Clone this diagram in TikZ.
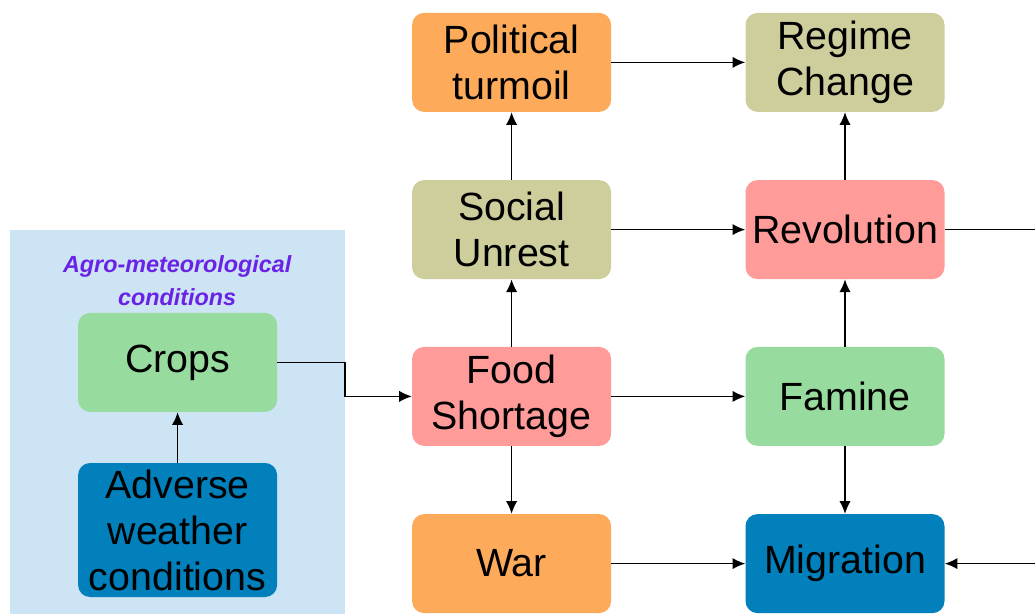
\documentclass[tikz,border=0pt]{standalone}
\usepackage{fontspec}
\setmainfont{Liberation Sans}
\usepackage{tikz}
\usetikzlibrary{arrows.meta}

\definecolor{boxorange}{HTML}{FDAB5B}
\definecolor{boxkhaki}{HTML}{CDCE9C}
\definecolor{boxred}{HTML}{FF9B98}
\definecolor{boxgreen}{HTML}{97DB9E}
\definecolor{boxblue}{HTML}{0180BC}
\definecolor{panelblue}{HTML}{CCE4F4}
\definecolor{agroviolet}{HTML}{6A22E6}

\tikzset{
  box/.style={rounded corners=0.3cm, minimum width=4.975cm, minimum height=2.475cm,
    align=center, font=\fontsize{28}{32.7}\selectfont},
  link/.style={line width=1pt, -{Latex[length=9pt,width=8pt]}}
}

\begin{document}
\begin{tikzpicture}
\useasboundingbox (0,0) rectangle (25.875,15.35);
\fill[panelblue] (0.25,0) rectangle (8.625,9.6);
\node[text=agroviolet, align=center, font=\fontsize{16.6}{23.4}\bfseries\itshape\selectfont] (agro) at (4.43,8.33) {Agro-meteorological\\conditions};

\node[box, fill=boxgreen] (crops) at (4.44,6.29) {Crops};
\node[box, fill=boxblue, minimum height=3.35cm] (adverse) at (4.44,2.1) {Adverse\\weather\\conditions};

\node[box, fill=boxorange] (turmoil) at (12.79,13.79) {Political\\turmoil};
\node[box, fill=boxkhaki] (regime) at (21.125,13.79) {Regime\\Change};
\node[box, fill=boxkhaki] (unrest) at (12.79,9.61) {Social\\Unrest};
\node[box, fill=boxred] (revolution) at (21.125,9.61) {Revolution};
\node[box, fill=boxred] (food) at (12.79,5.44) {Food\\Shortage};
\node[box, fill=boxgreen] (famine) at (21.125,5.44) {Famine};
\node[box, fill=boxorange] (war) at (12.79,1.26) {War};
\node[box, fill=boxblue] (migration) at (21.125,1.26) {Migration};

\coordinate (outtop) at (25.875,9.61);
\coordinate (outbot) at (25.875,1.26);

\draw[link] (adverse) -- (crops);
\draw[link] (crops.east) -| (8.625,5.44) -- (food.west);
\draw[link] (food) -- (unrest);
\draw[link] (unrest) -- (turmoil);
\draw[link] (turmoil) -- (regime);
\draw[link] (unrest) -- (revolution);
\draw[link] (revolution) -- (regime);
\draw[line width=1pt] (revolution) -- (outtop);
\draw[link] (food) -- (famine);
\draw[link] (famine) -- (revolution);
\draw[link] (famine) -- (migration);
\draw[link] (food) -- (war);
\draw[link] (war) -- (migration);
\draw[link] (outbot) -- (migration);
\end{tikzpicture}
\end{document}
